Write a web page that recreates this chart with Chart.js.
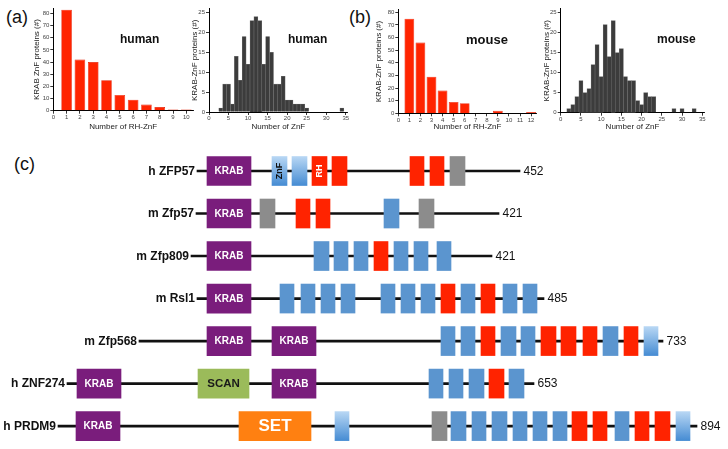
<!DOCTYPE html>
<html><head><meta charset="utf-8">
<script src="https://cdn.jsdelivr.net/npm/chart.js@4/dist/chart.umd.min.js"></script>
<style>
html,body{margin:0;padding:0;background:#fff;width:728px;height:449px;overflow:hidden;position:relative;font-family:"Liberation Sans",Arial,sans-serif}
canvas{position:absolute}
.lab{position:absolute;font-size:18px;color:#111;line-height:1;white-space:nowrap}
.sp{position:absolute;font-weight:bold;color:#111;line-height:1;white-space:nowrap}
</style></head><body>
<div class="lab" style="left:6px;top:8px">(a)</div>
<div class="lab" style="left:349px;top:8px">(b)</div>
<div class="lab" style="left:14px;top:155px">(c)</div>
<canvas id="h1" width="172" height="136" style="left:28px;top:0"></canvas>
<canvas id="h2" width="172" height="136" style="left:186px;top:0"></canvas>
<canvas id="h3" width="172" height="136" style="left:370px;top:0"></canvas>
<canvas id="h4" width="190" height="136" style="left:538px;top:0"></canvas>
<canvas id="dg" width="728" height="309" style="left:0;top:140px"></canvas>
<div class="sp" style="left:120px;top:33px;font-size:12px">human</div>
<div class="sp" style="left:288px;top:33px;font-size:12px">human</div>
<div class="sp" style="left:466px;top:33px;font-size:13px">mouse</div>
<div class="sp" style="left:657px;top:33px;font-size:12px">mouse</div>
<script>
// ---------- histogram data ----------
const humanRHBins   = [1,2,3,4,5,6,7,8,9,10];
const humanRHCounts = [83,42,40,25,13,9,5,3,1,1];
const humanZnFBins   = [3,4,5,6,7,8,9,10,11,12,13,14,15,16,17,18,19,20,21,22,23,24,25,26,27,28,29,30,31,32,33,34];
const humanZnFCounts = [1,7,7,2,14,8,19,12,23,24,23,12,19,15,7,7,9,3,3,2,2,2,1,0,0,0,0,0,0,0,0,1];
const mouseRHBins   = [1,2,3,4,5,6,7,8,9,10,11,12];
const mouseRHCounts = [75,56,29,18,9,8,0,0,2,0,0,1];
const mouseZnFBins   = [2,3,4,5,6,7,8,9,10,11,12,13,14,15,16,17,18,19,20,21,22,23,24,25,26,27,28,29,30,31,32,33];
const mouseZnFCounts = [1,2,4,8,5,6,12,17,9,22,14,23,15,16,9,8,8,3,2,5,4,4,0,0,0,0,1,0,1,0,0,1];
const rhTickStep = 1, znfTickStep = 5;
const rhYTickStep = 10, znfYTickStep = 5;

// ---------- domain diagram data ----------
const proteins = ['h ZFP57','m Zfp57','m Zfp809','m Rsl1','m Zfp568','h ZNF274','h PRDM9'];
const proteinLengths = ['452','421','421','485','733','653','894'];
const backboneStart = [197,196,191,197,139,67,58];
const backboneEnd   = [520,499,492,544,663,534,697];
const krabDomains = [['h ZFP57',207,251,'KRAB'],['m Zfp57',207,251,'KRAB'],['m Zfp809',207,251,'KRAB'],['m Rsl1',207,251,'KRAB'],
  ['m Zfp568',207,251,'KRAB'],['m Zfp568',272,316,'KRAB'],['h ZNF274',77,121,'KRAB'],['h ZNF274',272,316,'KRAB'],['h PRDM9',76,120,'KRAB']];
const scanDomains = [['h ZNF274',198,249,'SCAN']];
const setDomains  = [['h PRDM9',239,311,'SET']];
const greyDomains = [['h ZFP57',450,465],['m Zfp57',260,275],['m Zfp57',419,434],['h PRDM9',432,447]];
const lightZnF = [['h ZFP57',272,287,'ZnF'],['h ZFP57',292,307],['m Zfp568',644,658],['h PRDM9',335,349],['h PRDM9',676,690]];
const rhZnF = [['h ZFP57',312,327,'RH'],['h ZFP57',332,347],['h ZFP57',410,424],['h ZFP57',430,444],
  ['m Zfp57',296,310],['m Zfp57',316,330],['m Zfp809',374,388],['m Rsl1',441,455],['m Rsl1',481,495],
  ['m Zfp568',481,495],['m Zfp568',541,556],['m Zfp568',561,576],['m Zfp568',583,597],['m Zfp568',624,638],
  ['h ZNF274',489,504],['h PRDM9',572,587],['h PRDM9',593,607],['h PRDM9',635,649],['h PRDM9',655,670]];
const blueZnF = [['m Zfp57',384,399],
  ['m Zfp809',314,329],['m Zfp809',334,348],['m Zfp809',354,368],['m Zfp809',394,408],['m Zfp809',414,428],['m Zfp809',437,451],
  ['m Rsl1',280,294],['m Rsl1',301,315],['m Rsl1',321,335],['m Rsl1',341,355],['m Rsl1',381,395],['m Rsl1',401,415],['m Rsl1',421,435],['m Rsl1',461,475],['m Rsl1',503,517],['m Rsl1',523,537],
  ['m Zfp568',441,455],['m Zfp568',461,475],['m Zfp568',501,516],['m Zfp568',521,535],['m Zfp568',603,618],
  ['h ZNF274',429,443],['h ZNF274',449,463],['h ZNF274',469,484],['h ZNF274',509,524],
  ['h PRDM9',451,466],['h PRDM9',472,486],['h PRDM9',492,507],['h PRDM9',513,527],['h PRDM9',533,547],['h PRDM9',553,567],['h PRDM9',615,629]];

const F = '"Liberation Sans", Arial, sans-serif';
Chart.defaults.font.family = F;
Chart.defaults.animation = false;

function hist(id, bins, counts, o) {
  new Chart(document.getElementById(id), {
    type: 'bar',
    data: { datasets: [{ data: bins.map((b, i) => ({x: b, y: counts[i]})),
      backgroundColor: o.color, borderColor: o.border, borderWidth: 0.6,
      barPercentage: o.barPct, categoryPercentage: 1 }] },
    options: {
      responsive: false, devicePixelRatio: 1,
      layout: { padding: { left: 0, top: o.padTop, right: o.padRight, bottom: 0 } },
      plugins: { legend: { display: false }, tooltip: { enabled: false } },
      scales: {
        x: { type: 'linear', min: 0, max: o.xMax, offset: false,
          grid: { display: true, drawOnChartArea: false, drawTicks: true, tickLength: 3, color: '#000', lineWidth: 0.8, offset: false },
          border: { display: true, color: '#000', width: 1 },
          ticks: { stepSize: o.xStep, includeBounds: false, autoSkip: false, maxRotation: 0, padding: 0, font: { size: 6 }, color: '#444' },
          title: { display: true, text: o.xTitle, font: { size: 8 }, color: '#222', padding: { top: 0, bottom: 4 } },
          afterFit: s => { s.height = o.xH; } },
        y: { min: 0, max: o.yMax,
          grid: { display: true, drawOnChartArea: false, drawTicks: true, tickLength: 3, color: '#000', lineWidth: 0.8 },
          border: { display: true, color: '#000', width: 1 },
          ticks: { stepSize: o.yStep, includeBounds: false, padding: 1, font: { size: 6 }, color: '#444' },
          title: { display: true, text: o.yTitle, font: { size: 8 }, color: '#222', padding: { top: 4, bottom: 0 } },
          afterFit: s => { s.width = o.yW; } }
      }
    }
  });
}
hist('h1', humanRHBins, humanRHCounts, { color: '#ff2400', border: '#e01c00', barPct: 0.8, xMax: 10.5, xStep: rhTickStep, yMax: 84, yStep: rhYTickStep,
  xTitle: 'Number of RH-ZnF', yTitle: 'KRAB ZnF proteins (#)', padTop: 8.5, padRight: 7, xH: 25.3, yW: 25.3 });
hist('h2', humanZnFBins, humanZnFCounts, { color: '#3c3c3c', border: '#6a6a6a', barPct: 1, xMax: 35.5, xStep: znfTickStep, yMax: 26, yStep: znfYTickStep,
  xTitle: 'Number of ZnF', yTitle: 'KRAB-ZnF proteins (#)', padTop: 8.7, padRight: 10.3, xH: 24, yW: 23 });
hist('h3', mouseRHBins, mouseRHCounts, { color: '#ff2400', border: '#e01c00', barPct: 0.88, xMax: 12.5, xStep: rhTickStep, yMax: 82, yStep: rhYTickStep,
  xTitle: 'Number of RH-ZnF', yTitle: 'KRAB-ZnF proteins (#)', padTop: 9.8, padRight: 5.4, xH: 22.7, yW: 28.3 });
hist('h4', mouseZnFBins, mouseZnFCounts, { color: '#3c3c3c', border: '#6a6a6a', barPct: 1, xMax: 35.5, xStep: znfTickStep, yMax: 26, yStep: znfYTickStep,
  xTitle: 'Number of ZnF', yTitle: 'KRAB-ZnF proteins (#)', padTop: 8.7, padRight: 23.7, xH: 23.3, yW: 22.7 });

// ---------- diagram ----------
const toPts = arr => arr.map(d => ({ y: d[0], x: [d[1], d[2]], t: d[3] }));
const labelStyle = {
  KRAB: { font: 'bold 10px ' + F, color: '#fff', vertical: false },
  SCAN: { font: 'bold 11.5px ' + F, color: '#1a1a1a', vertical: false },
  SET:  { font: 'bold 17px ' + F, color: '#fff', vertical: false },
  ZnF:  { font: 'bold 9px ' + F, color: '#111', vertical: true },
  RH:   { font: 'bold 9px ' + F, color: '#fff', vertical: true }
};
const lightGrad = (c) => {
  const chart = c.chart, ys = chart.scales.y;
  if (!ys || c.type !== 'data' || !c.raw) return '#8ab8e6';
  const yc = ys.getPixelForValue(proteins.indexOf(c.raw.y));
  if (!isFinite(yc)) return '#8ab8e6';
  const g = chart.ctx.createLinearGradient(0, yc - 14.5, 0, yc + 14.5);
  g.addColorStop(0, '#b8d7f4'); g.addColorStop(1, '#468cd3');
  return g;
};
const diagramText = {
  id: 'diagramText',
  afterDatasetsDraw(chart) {
    const ctx = chart.ctx, ys = chart.scales.y, xs = chart.scales.x;
    ctx.save();
    ctx.textBaseline = 'middle';
    proteins.forEach((p, i) => {
      const y = ys.getPixelForValue(i);
      ctx.fillStyle = '#111';
      ctx.font = 'bold 12px ' + F; ctx.textAlign = 'right';
      ctx.fillText(p, xs.getPixelForValue(backboneStart[i]) - 2, y + 0.5);
      ctx.font = '12px ' + F; ctx.textAlign = 'left';
      ctx.fillText(proteinLengths[i], xs.getPixelForValue(backboneEnd[i]) + 3.5, y + 0.5);
    });
    chart.data.datasets.forEach((ds, di) => {
      const meta = chart.getDatasetMeta(di);
      meta.data.forEach((el, j) => {
        const t = ds.data[j].t; if (!t) return;
        const st = labelStyle[t];
        ctx.save();
        ctx.translate((el.x + el.base) / 2, el.y);
        if (st.vertical) ctx.rotate(-Math.PI / 2);
        ctx.font = st.font; ctx.fillStyle = st.color; ctx.textAlign = 'center';
        ctx.fillText(t, 0, 0.5);
        ctx.restore();
      });
    });
    ctx.restore();
  }
};
const box = (data, color) => ({ data: toPts(data), backgroundColor: color, barThickness: 29, grouped: false, order: 0, borderWidth: 0, clip: false });
new Chart(document.getElementById('dg'), {
  type: 'bar',
  data: {
    labels: proteins,
    datasets: [
      box(krabDomains, '#7a1d7c'),
      box(scanDomains, '#9bbb5a'),
      box(setDomains, '#ff8011'),
      box(greyDomains, '#8c8c8c'),
      box(lightZnF, lightGrad),
      box(rhZnF, '#ff2300'),
      box(blueZnF, '#5b95cf'),
      { data: proteins.map((p, i) => ({ y: p, x: [backboneStart[i], backboneEnd[i]] })), backgroundColor: '#111', barThickness: 2, grouped: false, order: 1, clip: false }
    ]
  },
  options: {
    indexAxis: 'y', responsive: false, devicePixelRatio: 1,
    layout: { padding: { left: 0, right: 0, top: 31, bottom: 22.9 } },
    plugins: { legend: { display: false }, tooltip: { enabled: false } },
    scales: {
      x: { type: 'linear', min: 0, max: 728, display: false },
      y: { type: 'category', offset: false, display: false }
    }
  },
  plugins: [diagramText]
});
</script>
</body></html>
